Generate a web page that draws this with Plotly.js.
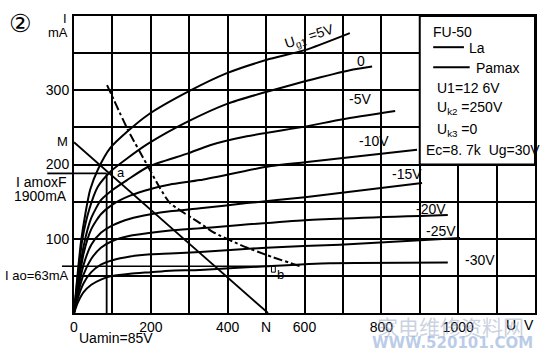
<!DOCTYPE html>
<html><head><meta charset="utf-8">
<script src="https://cdn.plot.ly/plotly-3.0.1.min.js"></script>
<style>html,body{margin:0;padding:0;background:#fff}#chart{width:550px;height:351px}</style>
</head><body><div id="chart"></div><script>
// axis extents
const X_MAX = 1200, Y_MAX = 400;
// characteristic curves Ia(Ua) for grid voltages (V, mA)
const curveNames = ["+5V", "0", "-5V", "-10V", "-15V", "-20V", "-25V", "-30V"];
const uaP5  = [0, 8, 18, 30, 42, 62, 94, 138, 193, 297, 398, 502, 601, 718];
const iaP5  = [0, 45, 95, 135, 166, 193, 222, 244, 267, 298, 323, 341, 354, 377];
const ua0   = [0, 10, 22, 40, 62, 94, 138, 193, 297, 400, 502, 601, 718, 776];
const ia0   = [0, 50, 100, 140, 170, 190, 208, 228, 258, 282, 298, 312, 327, 332];
const uaM5  = [0, 10, 25, 45, 70, 101, 138, 193, 297, 354, 450, 601, 700, 836];
const iaM5  = [0, 40, 90, 128, 152, 166, 179, 197, 215, 226, 238, 251, 261, 272];
const uaM10 = [0, 10, 25, 45, 70, 100, 146, 200, 250, 328, 502, 601, 893];
const iaM10 = [0, 35, 80, 113, 133, 146, 158, 167, 173, 179, 197, 203, 220];
const uaM15 = [0, 10, 25, 45, 70, 100, 146, 200, 250, 328, 450, 601, 906];
const iaM15 = [0, 30, 65, 92, 108, 118, 127, 133, 137, 141, 148, 156, 175];
const uaM20 = [0, 10, 25, 45, 70, 100, 146, 200, 250, 328, 601, 973];
const iaM20 = [0, 25, 52, 73, 88, 97, 104, 108, 111, 114, 125, 132];
const uaM25 = [0, 10, 25, 45, 70, 100, 146, 200, 250, 328, 500, 692, 1005];
const iaM25 = [0, 20, 40, 55, 65, 71, 76, 79, 80, 82, 88, 92, 101];
const uaM30 = [0, 10, 25, 45, 70, 100, 146, 200, 250, 328, 500, 666, 973];
const iaM30 = [0, 14, 28, 38, 45, 50, 53, 55, 57, 58, 63, 67, 68];
// max anode dissipation curve (dash-dot)
const uaPmax = [86, 141, 193, 224, 250, 328, 362, 432, 502, 588];
const iaPmax = [307, 246, 197, 168, 148, 121, 109, 92, 78, 63];
// load line M-N
const loadU = [0, 505];
const loadI = [230, 0];
// operating values
const UAMIN = 85, IAMAX = 188, IAO = 63, IAO_END = 518;

const curvesU = [uaP5, ua0, uaM5, uaM10, uaM15, uaM20, uaM25, uaM30];
const curvesI = [iaP5, ia0, iaM5, iaM10, iaM15, iaM20, iaM25, iaM30];

const FONT = "Liberation Sans, Arial, sans-serif";
const traces = [];
curvesU.forEach((u, k) => traces.push({
  x: u, y: curvesI[k], name: curveNames[k], type: "scatter", mode: "lines",
  line: {color: "#000", width: 2, shape: "spline", smoothing: 0.6}, hoverinfo: "skip"
}));
traces.push({x: uaPmax, y: iaPmax, mode: "lines", type: "scatter",
  line: {color: "#000", width: 2, dash: "dashdot", shape: "spline", smoothing: 0.6}});
traces.push({x: loadU, y: loadI, mode: "lines", type: "scatter", line: {color: "#000", width: 1.8}});
traces.push({x: [0, UAMIN], y: [IAMAX, IAMAX], mode: "lines", type: "scatter", line: {color: "#000", width: 1.8}});
traces.push({x: [UAMIN, UAMIN], y: [0, IAMAX], mode: "lines", type: "scatter", line: {color: "#000", width: 1.8}});
traces.push({x: [0, IAO_END], y: [IAO, IAO], mode: "lines", type: "scatter", line: {color: "#000", width: 1.6}});

const xtv = [], xtt = [];
const xLab = {0: "0", 200: "200", 400: "400", 500: "N", 600: "600", 800: "800", 1000: "1000"};
for (let v = 0; v <= X_MAX; v += 100) { xtv.push(v); xtt.push(xLab[v] || " "); }
const ytv = [], ytt = [];
const yLab = {100: "100", 200: "200", 300: "300"};
for (let v = 0; v <= Y_MAX; v += 50) { ytv.push(v); ytt.push(yLab[v] || " "); }

function ann(text, x, y, opt) {
  return Object.assign({text, x, y, xref: "x", yref: "y", showarrow: false,
    xanchor: "center", yanchor: "middle",
    font: {family: FONT, size: 14, color: "#000"}}, opt || {});
}
function pann(text, x, y, opt) {
  return Object.assign({text, x, y, xref: "paper", yref: "paper", showarrow: false,
    xanchor: "center", yanchor: "middle",
    font: {family: FONT, size: 14, color: "#000"}}, opt || {});
}
const annotations = [
  pann("②", -0.117, 0.975, {font: {family: "DejaVu Sans", size: 25, color: "#000"}}),
  pann("I", -0.019, 0.99, {font: {family: FONT, size: 13, color: "#000"}}),
  pann("mA", -0.035, 0.943, {font: {family: FONT, size: 13, color: "#000"}}),
  pann("M", -0.026, 0.576, {font: {family: FONT, size: 13, color: "#000"}}),
  pann("I amoxF", -0.011, 0.441, {xanchor: "right"}),
  pann("1900mA", -0.011, 0.394, {xanchor: "right"}),
  pann("I ao=63mA", -0.007, 0.125, {xanchor: "right", font: {family: FONT, size: 13, color: "#000"}}),
  pann("Uamin=85V", 0.006, -0.084, {xanchor: "left"}),
  pann("U  V", 0.933, -0.040, {xanchor: "left"}),
  ann("a", 107, 189, {xanchor: "left", font: {family: FONT, size: 13, color: "#000"}}),
  ann("b", 522, 52, {xanchor: "left", font: {family: FONT, size: 13, color: "#000"}}),
  ann("U<sub>g1</sub> =5V", 612, 372, {textangle: -18}),
  ann("0", 748, 340),
  ann("-5V", 745, 288),
  ann("-10V", 780, 232),
  ann("-15V", 866, 187),
  ann("-20V", 928, 140),
  ann("-25V", 956, 110),
  ann("-30V", 1058, 71),
  ann("FU-50", 928, 378, {xanchor: "left"}),
  ann("La", 1022, 357, {xanchor: "left"}),
  ann("Pamax", 1040, 330, {xanchor: "left"}),
  ann("U1=12 6V", 940, 303, {xanchor: "left"}),
  ann("U<sub>k2</sub> =250V", 940, 276, {xanchor: "left"}),
  ann("U<sub>k3</sub> =0", 940, 247, {xanchor: "left"}),
  ann("Ec=8. 7k  Ug=30V", 910, 220, {xanchor: "left"}),
  pann("家电维修资料网", 0.98, -0.045, {xanchor: "right",
   font: {family: "Noto Sans CJK SC", size: 21, color: "rgba(150,165,195,0.5)"}}),
  pann("<b>WWW.520101.COM</b>", 1.0, -0.1, {xanchor: "right",
   font: {family: "DejaVu Sans", size: 15, color: "rgba(140,170,215,0.6)"}})
];

const shapes = [
  {type: "rect", xref: "x", yref: "y", x0: 900, x1: X_MAX, y0: 200, y1: Y_MAX,
   fillcolor: "#fff", line: {color: "#000", width: 2}, layer: "above"},
  {type: "line", xref: "x", yref: "y", x0: 935, x1: 1015, y0: 358, y1: 358, line: {color: "#000", width: 2}},
  {type: "line", xref: "x", yref: "y", x0: 935, x1: 1030, y0: 331, y1: 331, line: {color: "#000", width: 2}},
  {type: "line", xref: "paper", yref: "paper", x0: -0.058, x1: 0, y0: IAMAX / Y_MAX, y1: IAMAX / Y_MAX, line: {color: "#000", width: 1.8}},
  {type: "line", xref: "paper", yref: "paper", x0: -0.026, x1: 0, y0: IAO / Y_MAX, y1: IAO / Y_MAX, line: {color: "#000", width: 1.6}},
  {type: "rect", xref: "x", yref: "y", x0: IAO_END - 4, x1: IAO_END + 6, y0: IAO - 8, y1: IAO, line: {color: "#000", width: 1}}
];

const layout = {
  width: 550, height: 351, margin: {l: 74, r: 15, t: 16, b: 38},
  paper_bgcolor: "#fff", plot_bgcolor: "#fff", showlegend: false,
  font: {family: FONT, size: 14, color: "#000"},
  xaxis: {range: [0, X_MAX], tickmode: "array", tickvals: xtv, ticktext: xtt,
    showgrid: true, gridcolor: "#000", gridwidth: 2, zeroline: false,
    showline: true, linecolor: "#000", linewidth: 2, mirror: true, ticks: "",
    tickfont: {family: FONT, size: 14, color: "#000"}, fixedrange: true},
  yaxis: {range: [0, Y_MAX], tickmode: "array", tickvals: ytv, ticktext: ytt,
    showgrid: true, gridcolor: "#000", gridwidth: 2, zeroline: false,
    showline: true, linecolor: "#000", linewidth: 2, mirror: true, ticks: "",
    tickfont: {family: FONT, size: 14, color: "#000"}, fixedrange: true},
  annotations, shapes
};
Plotly.newPlot("chart", traces, layout, {staticPlot: true});
</script></body></html>
